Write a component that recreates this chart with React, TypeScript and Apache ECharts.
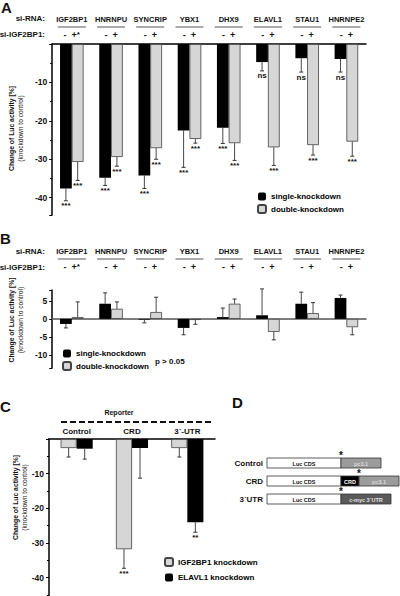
import React, { useEffect, useRef } from "react";
import * as echarts from "echarts";

// ---------- data ----------
const genes = ["IGF2BP1", "HNRNPU", "SYNCRIP", "YBX1", "DHX9", "ELAVL1", "STAU1", "HNRNPE2"];
const signs = ["-", "+"];

// Panel A
const aSingle = [-37.6, -34.8, -34.2, -22.5, -21.8, -4.7, -3.7, -3.9];
const aSingleErr = [-40.8, -36.8, -37.6, -32.1, -25.9, -7.0, -7.3, -7.3];
const aSingleSig = ["***", "***", "***", "***", "***", "ns", "ns", "ns"];
const aDouble = [-30.7, -29.4, -27.1, -24.7, -25.8, -26.9, -26.3, -25.4];
const aDoubleErr = [-35.5, -31.8, -30.0, -25.8, -30.3, -31.6, -28.9, -29.2];
const aDoubleSig = ["***", "***", "***", "***", "***", "***", "***", "***"];

// Panel B
const bSingle = [-1.4, 4.2, -0.2, -2.5, 0.5, 1.0, 4.2, 5.8];
const bSingleErr = [-2.5, 7.2, -1.1, -4.4, 3.0, 8.3, 7.4, 6.6];
const bDouble = [0.5, 2.8, 1.9, -0.3, 4.2, -3.6, 1.6, -2.3];
const bDoubleErr = [4.7, 4.7, 6.0, -1.5, 5.5, -5.8, 4.5, -4.4];

// Panel C
const cCats = ["Control", "CRD", "3´-UTR"];
const cIgf = [-2.6, -31.8, -2.6];
const cIgfErr = [-5.2, -37.3, -5.2];
const cIgfSig = ["", "***", ""];
const cElav = [-2.8, -2.6, -24.0];
const cElavErr = [-5.8, -11.3, -26.9];
const cElavSig = ["", "", "**"];

// Panel D constructs
const constructNames = ["Control", "CRD", "3´UTR"];
const constructParts = [
  [["Luc CDS", "luc"], ["pc3.1", "pc"]],
  [["Luc CDS", "luc"], ["CRD", "crd"], ["pc3.1", "pc"]],
  [["Luc CDS", "luc"], ["c-myc 3´UTR", "myc"]],
];
const constructStarAfter = [0, 1, 0];

const yName = "{a|Change of Luc activity [%]}\n{b|(knockdown to control)}";

// ---------- helpers ----------
const FONT = '"Liberation Sans", Arial, Helvetica, sans-serif';

function errSeries(xi: number, yi: number, vals: number[], errs: number[], sigs: string[], off: number) {
  return {
    type: "custom",
    xAxisIndex: xi,
    yAxisIndex: yi,
    silent: true,
    z: 5,
    data: vals.map((v, i) => [i, v, errs[i]]),
    renderItem: (params: any, api: any) => {
      const i = api.value(0);
      const v = api.value(1);
      const e = api.value(2);
      const base = api.coord([i, v]);
      const end = api.coord([i, e]);
      const band = api.size([1, 0])[0];
      const x = base[0] + band * off;
      const down = end[1] > base[1];
      const children: any[] = [
        { type: "line", shape: { x1: x, y1: base[1], x2: x, y2: end[1] }, style: { stroke: "#333", lineWidth: 0.9 } },
        { type: "line", shape: { x1: x - 2, y1: end[1], x2: x + 2, y2: end[1] }, style: { stroke: "#333", lineWidth: 1 } },
      ];
      const s = sigs[params.dataIndex];
      if (s) {
        children.push({
          type: "text",
          style: {
            text: s,
            x,
            y: end[1] + (down ? 1 : -1),
            align: "center",
            verticalAlign: down ? "top" : "bottom",
            fontSize: 8,
            fontWeight: "bold",
            fontFamily: FONT,
            fill: "#111",
          },
        });
      }
      return { type: "group", children };
    },
  };
}

const geneRich = {
  g: { fontSize: 7.5, fontWeight: "bold", fontFamily: FONT, color: "#111", lineHeight: 10 },
  u: { width: 28, height: 1, backgroundColor: "#555", lineHeight: 6, fontSize: 4 },
  s: { fontSize: 9, fontWeight: "bold", fontFamily: FONT, color: "#111", lineHeight: 10 },
  st: { fontSize: 8, fontWeight: "bold", fontFamily: FONT, color: "#111", lineHeight: 10, verticalAlign: "top" },
};
const geneFormatter = (v: string, idx: number) =>
  `{g|${v}}\n{u| }\n{s|${signs[0]}  ${signs[1]}}` + (idx === 0 ? "{st|*}" : "");

const nameStyle = (pad: number) => ({
  padding: [0, 0, 0, pad],
  rich: {
    a: { fontSize: 6.8, fontWeight: "bold", fontFamily: FONT, color: "#111", lineHeight: 9 },
    b: { fontSize: 6.6, fontFamily: FONT, color: "#222", lineHeight: 9 },
  },
});

const tickLabel = (step: number) => ({
  fontSize: 8.5,
  fontWeight: "bold",
  fontFamily: FONT,
  color: "#111",
  margin: 5,
  formatter: (v: number) => (v !== 0 && Math.abs(v % step) < 1e-6 ? String(v) : ""),
});

const legendText = { fontSize: 8, fontWeight: "bold", fontFamily: FONT, color: "#000", lineHeight: 9 };

function buildGraphic() {
  const g: any[] = [];
  const txt = (text: string, x: number, y: number, size: number, align = "left", extra: any = {}) => ({
    type: "text",
    x,
    y,
    style: { text, align, verticalAlign: "middle", fontSize: size, fontWeight: "bold", fontFamily: FONT, fill: "#111", ...extra },
  });
  // panel letters
  g.push(txt("A", 1, 7, 15));
  g.push(txt("B", 0, 238, 15));
  g.push(txt("C", 0, 406, 15));
  g.push(txt("D", 232, 402, 15));
  // row labels
  g.push(txt("si-RNA:", 45, 18, 8, "right"));
  g.push(txt("si-IGF2BP1:", 45, 34, 8, "right"));
  g.push(txt("si-RNA:", 45, 251, 8, "right"));
  g.push(txt("si-IGF2BP1:", 45, 267, 8, "right"));
  g.push(txt("p > 0.05", 155, 361, 8));
  g.push(txt("Reporter", 119, 412, 7, "center"));
  g.push({ type: "line", shape: { x1: 61, y1: 422, x2: 212, y2: 422 }, style: { stroke: "#111", lineWidth: 2, lineDash: [6, 3] } });

  // panel D
  const widths: Record<string, number> = { luc: 74, pc: 40, crd: 18, myc: 50 };
  const fills: Record<string, string> = { luc: "#fff", pc: "#9c9c9c", crd: "#000", myc: "#5a5a5a" };
  const tcol: Record<string, string> = { luc: "#111", pc: "#d8d8d8", crd: "#fff", myc: "#e0e0e0" };
  constructNames.forEach((name, r) => {
    const top = 458 + r * 18;
    g.push(txt(name, 263, top + 5, 8, "right"));
    let x = 267;
    constructParts[r].forEach(([label, kind], k) => {
      const w = widths[kind];
      g.push({ type: "rect", shape: { x, y: top, width: w, height: 10 }, style: { fill: fills[kind], stroke: "#333", lineWidth: 0.8 } });
      g.push(txt(label, x + w / 2, top + 5.5, 5.5, "center", { fill: tcol[kind] }));
      x += w;
      if (k === constructStarAfter[r]) {
        g.push(txt("*", x, top - 3, 10, "center"));
      }
    });
  });
  return g;
}

export default function App() {
  const ref = useRef<HTMLDivElement>(null);
  useEffect(() => {
    if (!ref.current) return;
    const chart = echarts.init(ref.current, undefined, { renderer: "svg" });
    const axisBlack = { show: true, lineStyle: { color: "#000", width: 1.5 } };
    const option: any = {
      animation: false,
      backgroundColor: "#fff",
      grid: [
        { left: 48, top: 44, width: 318, height: 171 },
        { left: 49, top: 290, width: 317, height: 78 },
        { left: 49, top: 439, width: 166, height: 157 },
      ],
      xAxis: [
        {
          gridIndex: 0, type: "category", data: genes, position: "top",
          axisLine: axisBlack, axisTick: { show: false },
          axisLabel: { interval: 0, margin: 4, formatter: geneFormatter, rich: geneRich },
        },
        {
          gridIndex: 1, type: "category", data: genes, position: "bottom",
          axisLine: { show: true, onZero: true, lineStyle: { color: "#555", width: 1.5 } },
          axisTick: { show: false }, axisLabel: { show: false },
        },
        {
          gridIndex: 1, type: "category", data: genes, position: "top",
          axisLine: { show: false }, axisTick: { show: false },
          axisLabel: { interval: 0, margin: 18, formatter: geneFormatter, rich: geneRich },
        },
        {
          gridIndex: 2, type: "category", data: cCats, position: "top",
          axisLine: axisBlack, axisTick: { show: false },
          axisLabel: { interval: 0, margin: 4, fontSize: 8, fontWeight: "bold", fontFamily: FONT, color: "#111" },
        },
      ],
      yAxis: [
        {
          gridIndex: 0, type: "value", min: -44.5, max: 0, splitNumber: 4,
          axisLine: axisBlack, axisTick: { show: true, length: 3, lineStyle: { color: "#000" } },
          minorTick: { show: true, splitNumber: 2, length: 2, lineStyle: { color: "#000" } },
          splitLine: { show: false }, axisLabel: tickLabel(10),
          name: yName, nameLocation: "middle", nameRotate: 90, nameGap: 20.5, nameTextStyle: nameStyle(2),
        },
        {
          gridIndex: 1, type: "value", min: -13.6, max: 8, splitNumber: 4,
          axisLine: axisBlack, axisTick: { show: true, length: 3, lineStyle: { color: "#000" } },
          splitLine: { show: false }, axisLabel: { ...tickLabel(5), formatter: (v: number) => (Math.abs(v % 5) < 1e-6 ? String(v) : "") },
          name: yName, nameLocation: "middle", nameRotate: 90, nameGap: 20.5, nameTextStyle: nameStyle(18),
        },
        {
          gridIndex: 2, type: "value", min: -45.3, max: 0, splitNumber: 4,
          axisLine: axisBlack, axisTick: { show: true, length: 3, lineStyle: { color: "#000" } },
          minorTick: { show: true, splitNumber: 2, length: 2, lineStyle: { color: "#000" } },
          splitLine: { show: false }, axisLabel: tickLabel(10),
          name: yName, nameLocation: "middle", nameRotate: 90, nameGap: 20.5, nameTextStyle: nameStyle(40),
        },
      ],
      legend: [
        {
          data: ["single-knockdown", "double-knockdown"], orient: "vertical", left: 252, top: 187,
          itemWidth: 8, itemHeight: 8, itemGap: 3, textStyle: legendText, selectedMode: false,
        },
        {
          data: ["single-knockdown", "double-knockdown"], orient: "vertical", left: 57, top: 344,
          itemWidth: 8, itemHeight: 8, itemGap: 3, textStyle: legendText, selectedMode: false,
        },
        {
          data: ["IGF2BP1 knockdown", "ELAVL1 knockdown"], orient: "vertical", left: 159, top: 552,
          itemWidth: 8, itemHeight: 8, itemGap: 6, textStyle: legendText, selectedMode: false,
        },
      ],
      graphic: buildGraphic(),
      series: [
        {
          type: "bar", name: "single-knockdown", xAxisIndex: 0, yAxisIndex: 0, data: aSingle,
          barGap: "0%", barCategoryGap: "40%", itemStyle: { color: "#000" },
        },
        {
          type: "bar", name: "double-knockdown", xAxisIndex: 0, yAxisIndex: 0, data: aDouble,
          barGap: "0%", barCategoryGap: "40%", itemStyle: { color: "#d6d6d6", borderColor: "#444", borderWidth: 0.8 },
        },
        errSeries(0, 0, aSingle, aSingleErr, aSingleSig, -0.15),
        errSeries(0, 0, aDouble, aDoubleErr, aDoubleSig, 0.15),
        {
          type: "bar", name: "single-knockdown", xAxisIndex: 1, yAxisIndex: 1, data: bSingle,
          barGap: "0%", barCategoryGap: "40%", itemStyle: { color: "#000" },
        },
        {
          type: "bar", name: "double-knockdown", xAxisIndex: 1, yAxisIndex: 1, data: bDouble,
          barGap: "0%", barCategoryGap: "40%", itemStyle: { color: "#d6d6d6", borderColor: "#444", borderWidth: 0.8 },
        },
        errSeries(1, 1, bSingle, bSingleErr, [], -0.15),
        errSeries(1, 1, bDouble, bDoubleErr, [], 0.15),
        {
          type: "bar", name: "IGF2BP1 knockdown", xAxisIndex: 3, yAxisIndex: 2, data: cIgf,
          barGap: "0%", barCategoryGap: "42%", itemStyle: { color: "#d6d6d6", borderColor: "#444", borderWidth: 0.8 },
        },
        {
          type: "bar", name: "ELAVL1 knockdown", xAxisIndex: 3, yAxisIndex: 2, data: cElav,
          barGap: "0%", barCategoryGap: "42%", itemStyle: { color: "#000" },
        },
        errSeries(3, 2, cIgf, cIgfErr, cIgfSig, -0.145),
        errSeries(3, 2, cElav, cElavErr, cElavSig, 0.145),
      ],
    };
    chart.setOption(option);
    return () => chart.dispose();
  }, []);
  return <div ref={ref} style={{ position: "fixed", left: 0, top: 0, width: 400, height: 596, background: "#fff" }} />;
}
